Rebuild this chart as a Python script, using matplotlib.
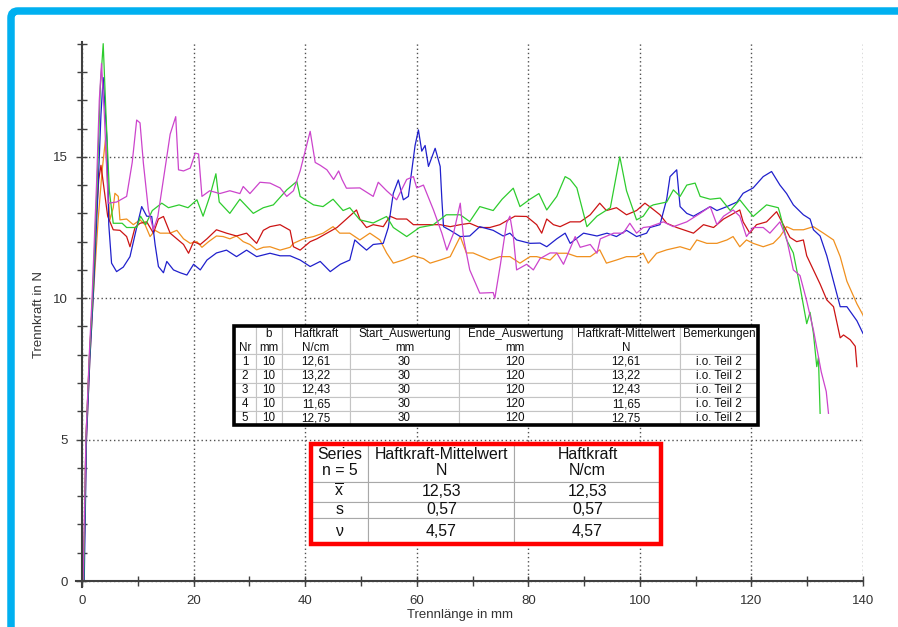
import matplotlib
matplotlib.use("Agg")
from matplotlib import pyplot as plt
from matplotlib import font_manager
from matplotlib.patches import FancyBboxPatch, Rectangle
from matplotlib.transforms import IdentityTransform
from matplotlib.ticker import MultipleLocator

# Trennkraft curves (x: Trennlänge in mm, y: Trennkraft in N)
green_x = [0.3, 0.7, 1.3, 1.9, 2.7, 3.3, 3.8, 4.3, 4.9, 5.6, 7.2, 8.0, 9.8, 10.5, 11.4, 12.6, 14.3,
           15.5, 17.4, 19.0, 20.6, 21.7, 22.9, 24.0, 24.6, 26.5, 28.3, 30.7, 32.5, 34.3, 36.7, 38.5,
           39.1, 41.5, 43.2, 45.0, 46.8, 48.0, 49.8, 52.2, 54.6, 55.8, 58.2, 60.5, 62.9, 65.3, 67.8,
           69.5, 71.3, 73.7, 75.3, 77.3, 78.5, 80.3, 81.9, 83.3, 85.1, 86.6, 87.5, 88.7, 90.5, 92.3,
           94.7, 96.4, 97.6, 99.4, 100.6, 101.8, 102.4, 104.8, 106.0, 107.2, 108.4, 109.9, 110.8,
           112.6, 114.4, 116.2, 117.9, 120.3, 122.7, 124.8, 125.1, 126.3, 127.5, 128.7, 129.9, 130.5,
           131.1, 131.7, 132.0, 132.3]
green_y = [0, 5, 7.8, 10, 14, 17.5, 19.0, 16.5, 13.8, 12.65, 12.65, 12.5, 12.5, 12.9, 12.6, 13.1, 13.36,
           13.2, 13.3, 13.2, 13.48, 12.9, 13.6, 14.4, 13.4, 13.0, 13.5, 13.0, 13.2, 13.3, 13.83, 14.13,
           13.6, 13.3, 13.24, 13.5, 13.1, 13.2, 12.77, 12.66, 12.89, 12.5, 12.18, 12.5, 12.59, 12.95, 12.95,
           12.71, 13.24, 13.1, 13.5, 13.89, 13.24, 13.5, 13.7, 13.12, 13.6, 14.3, 14.2, 13.9, 12.53, 12.9,
           13.2, 15.0, 13.8, 12.77, 12.9, 13.24, 13.3, 13.4, 13.83, 13.6, 14.0, 14.07, 13.6,
           13.5, 13.54, 13.1, 13.48, 12.89, 13.3, 13.2, 13.0, 12.06, 11.6, 10.41, 9.1, 9.5,
           8.76, 7.58, 7.9, 5.93]

magenta_x = [0.2, 0.7, 1.3, 1.8, 2.6, 3.1, 3.5, 4.0, 4.7, 6.2, 8.0, 9.0, 9.8, 10.4, 11.0, 11.9, 12.8,
             13.6, 15.2, 15.8, 16.8, 17.3, 18.2, 19.4, 20.3, 20.9, 21.5, 22.9, 24.7, 26.5, 28.3, 28.9,
             30.1, 31.9, 33.7, 35.5, 36.7, 37.9, 39.1, 40.9, 41.8, 42.7, 43.9, 45.1, 46.0, 46.6, 47.4,
             49.8, 52.2, 53.1, 54.6, 56.4, 58.2, 59.4, 60.0, 61.2, 63.0, 64.5, 65.4, 66.6, 67.8, 68.4,
             69.5, 71.3, 73.7, 74.0, 75.0, 76.1, 76.7, 77.3, 77.9, 79.7, 80.9, 82.1, 83.9, 85.1, 86.3,
             88.4, 89.3, 91.1, 92.3, 92.9, 95.3, 97.0, 98.2, 99.4, 100.6, 101.8, 104.2, 106.0, 108.4,
             110.8, 112.6, 113.8, 115.0, 116.7, 117.9, 119.1, 120.3, 122.1, 123.3, 125.1, 126.3, 127.5,
             128.7, 129.9, 131.1, 132.5, 133.4, 133.8]
magenta_y = [0, 5, 8, 10, 14, 17, 18.3, 16.5, 13.36, 13.4, 13.6, 14.8, 16.3, 16.2, 14.78, 13.12, 12.42,
             12.9, 15.0, 15.8, 16.42, 14.54, 14.5, 14.6, 15.13, 15.1, 13.6, 13.8, 13.7, 13.8, 13.7, 13.95,
             13.7, 14.1, 14.07, 13.9, 13.6, 13.8, 14.5, 15.9, 14.8, 14.7, 14.54, 14.2, 14.5, 14.2, 13.89,
             13.9, 13.6, 14.1, 13.8, 13.48, 14.2, 14.3, 13.9, 14.0, 13.12, 12.3, 11.7, 12.3, 13.36, 12.1,
             11.0, 10.18, 10.2, 10.0, 11.2, 12.65, 12.9, 12.2, 11.0, 11.2, 11.0, 11.4, 11.6, 11.6, 11.2,
             12.18, 11.8, 11.9, 11.59, 12.1, 12.3, 12.3, 12.65, 12.3, 12.5, 12.53, 12.7, 12.53, 12.7,
             13.0, 13.24, 12.6, 12.9, 13.12, 12.9, 12.18, 12.5, 12.5, 12.3, 12.7, 12.1, 11.0,
             10.8, 9.9, 8.88, 7.4, 6.7, 5.93]

blue_x = [0.4, 0.8, 1.4, 2.0, 2.8, 3.4, 3.8, 4.5, 4.8, 5.3, 6.2, 7.4, 8.6, 9.8, 10.7, 11.6, 12.5, 13.1,
          13.7, 14.6, 15.2, 16.4, 17.6, 18.8, 20.0, 21.2, 22.4, 24.1, 25.9, 27.7, 29.5, 31.3, 33.7, 35.5,
          37.3, 39.1, 40.9, 42.7, 44.5, 46.3, 48.0, 48.9, 49.8, 51.0, 52.2, 54.0, 54.9, 55.8, 56.7, 57.6,
          58.5, 59.7, 60.3, 60.9, 61.5, 62.1, 63.3, 64.2, 64.5, 64.8, 66.0, 67.8, 69.5, 71.3, 73.7, 75.5,
          76.7, 77.9, 80.3, 82.1, 83.3, 85.1, 86.6, 87.5, 89.9, 92.3, 94.1, 95.8, 97.6, 99.4, 101.2,
          101.8, 103.6, 104.8, 105.4, 106.6, 107.2, 108.4, 109.6, 111.4, 112.6, 113.8, 115.6, 117.4,
          118.5, 120.3, 122.1, 123.6, 125.1, 126.3, 127.5, 129.3, 130.5, 131.1, 132.3, 133.5, 134.7,
          135.9, 137.1, 138.9, 140.0]
blue_y = [0, 5, 7.8, 10, 13.5, 16.5, 17.8, 15.5, 12.6, 11.24, 10.94, 11.1, 11.47, 12.5, 13.24, 12.9, 12.89, 11.9,
          11.12, 10.9, 11.3, 11.0, 10.9, 10.82, 11.2, 11.0, 11.35, 11.6, 11.7, 11.47, 11.7, 11.47, 11.59, 11.5,
          11.5, 11.35, 11.12, 11.3, 10.94, 11.2, 11.35, 12.06, 11.9, 11.7, 11.9, 11.94, 12.5, 13.71, 14.18, 13.48,
          13.6, 15.4, 15.95, 15.2, 15.4, 14.66, 15.3, 14.66, 13.5, 12.53, 12.4, 12.18, 12.2, 12.53, 12.4, 12.2,
          12.3, 12.06, 11.94, 11.95, 11.82, 12.1, 12.3, 11.94, 12.3, 12.2, 12.3, 12.18, 12.4, 12.18, 12.3,
          12.5, 12.6, 13.5, 14.3, 14.54, 13.24, 13.0, 12.9, 13.1, 13.24, 13.1, 13.24, 13.4,
          13.71, 13.9, 14.3, 14.48, 14.0, 13.7, 13.3, 12.95, 12.8, 12.42, 12.2, 11.5, 10.6,
          9.7, 9.7, 9.2, 8.75]

red_x = [0.3, 0.7, 1.3, 1.9, 2.6, 3.0, 3.4, 4.0, 4.6, 5.6, 6.8, 8.0, 8.6, 9.5, 10.4, 11.6, 12.8, 13.7,
         14.6, 15.8, 17.0, 18.2, 19.1, 20.0, 21.2, 22.4, 24.1, 25.9, 27.7, 29.5, 31.3, 32.5, 33.7, 35.5,
         37.3, 37.9, 39.1, 40.9, 42.1, 43.9, 45.7, 47.4, 49.2, 49.8, 51.0, 52.2, 54.0, 55.2, 56.4, 58.2,
         59.4, 61.8, 64.2, 66.0, 67.8, 69.5, 71.3, 73.1, 74.9, 76.4, 77.6, 79.7, 81.5, 82.4, 83.3, 84.5,
         85.7, 87.5, 89.3, 91.1, 92.8, 94.0, 95.8, 97.6, 99.4, 100.9, 102.0, 103.6, 104.8, 106.6, 109.6,
         111.4, 113.2, 115.0, 117.9, 118.5, 119.7, 120.9, 122.7, 124.5, 125.7, 126.9, 128.1, 129.3,
         129.9, 131.1, 132.3, 133.5, 134.7, 135.9, 136.5, 137.7, 138.6, 138.9]
red_y = [0, 5, 7.8, 10, 13, 14.2, 14.7, 13.8, 12.9, 12.42, 12.4, 12.18, 11.82, 12.5, 12.65, 12.7, 12.3, 12.8,
         12.89, 12.3, 12.1, 11.9, 11.59, 12.0, 11.9, 12.1, 12.42, 12.3, 12.2, 12.3, 11.94, 12.4, 12.53, 12.6,
         12.4, 11.82, 11.7, 12.0, 12.1, 12.3, 12.5, 12.8, 13.12, 12.8, 12.5, 12.6, 12.53, 12.9, 12.8, 12.8,
         12.6, 12.6, 12.6, 12.53, 12.6, 12.65, 12.5, 12.5, 12.6, 12.77, 12.9, 12.89, 12.6, 12.3, 12.8, 12.6,
         12.53, 12.7, 12.7, 12.95, 13.36, 13.1, 13.2, 12.95, 13.1, 13.36, 13.2, 12.95, 12.65, 12.5, 12.3,
         12.6, 12.5, 12.8, 13.12, 12.7, 12.3, 12.6, 12.7, 13.06, 12.6, 12.15, 12.0, 12.06,
         11.5, 11.0, 10.5, 9.94, 9.7, 8.6, 8.7, 8.53, 8.3, 7.58]

orange_x = [0.3, 0.8, 1.4, 2.0, 2.9, 3.6, 4.2, 4.6, 5.0, 5.6, 5.9, 6.5, 6.8, 8.0, 9.2, 10.4, 11.3, 12.2,
            13.1, 14.0, 15.8, 17.0, 18.2, 19.4, 20.6, 21.5, 22.7, 24.1, 25.3, 26.5, 27.7, 28.9, 30.1,
            31.3, 32.5, 33.7, 35.5, 37.3, 37.9, 39.7, 41.5, 43.2, 45.0, 46.2, 48.0, 49.8, 51.6, 53.4,
            54.6, 55.8, 57.6, 59.4, 61.2, 62.4, 64.2, 66.0, 67.8, 68.9, 70.1, 71.3, 73.1, 74.9, 76.7,
            78.5, 80.3, 81.5, 83.9, 85.1, 86.9, 88.7, 91.1, 92.8, 94.0, 95.8, 97.6, 99.4, 100.6, 101.5,
            103.0, 104.8, 107.2, 109.0, 110.2, 112.0, 113.8, 115.6, 116.7, 117.9, 119.1, 120.3, 122.1,
            123.9, 125.1, 126.3, 127.5, 129.3, 131.1, 132.9, 134.7, 135.9, 137.1, 138.9, 140.0]
orange_y = [0, 5, 7.8, 10, 12.8, 14.5, 15.6, 14.0, 12.77, 13.2, 13.71, 13.6, 12.77, 12.8, 12.6, 12.77, 12.6, 12.18,
            12.4, 12.3, 12.3, 12.4, 12.1, 11.94, 12.0, 11.8, 12.0, 12.2, 12.18, 12.1, 12.2, 12.0, 11.9,
            11.71, 11.8, 11.82, 11.7, 11.8, 11.94, 12.1, 12.18, 12.3, 12.53, 12.3, 12.3, 12.06, 12.3, 12.06,
            11.6, 11.24, 11.35, 11.5, 11.4, 11.24, 11.35, 11.47, 12.18, 11.6, 11.6, 11.5, 11.35, 11.47, 11.47,
            11.24, 11.47, 11.47, 11.35, 11.59, 11.59, 11.47, 11.47, 11.71, 11.24, 11.35, 11.47, 11.47, 11.59, 11.24,
            11.59, 11.71, 11.82, 11.71, 12.06, 11.94, 11.94, 12.06, 12.18, 11.82, 12.06, 11.94, 11.82,
            11.94, 12.18, 12.53, 12.42, 12.42, 12.53, 12.3, 12.06, 11.47, 10.6, 9.8, 9.4]

# result table per sample
col_head1 = ["", "b", "Haftkraft", "Start_Auswertung", "Ende_Auswertung", "Haftkraft-Mittelwert", "Bemerkungen"]
col_head2 = ["Nr", "mm", "N/cm", "mm", "mm", "N", ""]
nr = ["1", "2", "3", "4", "5"]
b = ["10", "10", "10", "10", "10"]
haftkraft = ["12,61", "13,22", "12,43", "11,65", "12,75"]
start = ["30", "30", "30", "30", "30"]
ende = ["120", "120", "120", "120", "120"]
mittelwert = ["12,61", "13,22", "12,43", "11,65", "12,75"]
bemerkung = ["i.o. Teil 2"] * 5

# statistics table
stat_head = ["Series\nn = 5", "Haftkraft-Mittelwert\nN", "Haftkraft\nN/cm"]
stat_names = [r"$\overline{\mathrm{x}}$", "s", "ν"]
stat_mw = ["12,53", "0,57", "4,57"]
stat_hk = ["12,53", "0,57", "4,57"]

names = {f.name for f in font_manager.fontManager.ttflist}
narrow = "Liberation Sans Narrow" if "Liberation Sans Narrow" in names else "Liberation Sans"

plt.rcParams["font.family"] = ["Liberation Sans", "DejaVu Sans"]
plt.rcParams["mathtext.fontset"] = "custom"
plt.rcParams["mathtext.rm"] = "Liberation Sans"

fig = plt.figure(figsize=(8.98, 6.27), dpi=100)
ax = fig.add_axes([0.0851, 0.0643, 0.876, 0.8692])

# light blue frame round the picture
frame = FancyBboxPatch((11, -60), 1000, 627 - 11 + 60, boxstyle="round,pad=0,rounding_size=7",
                       transform=IdentityTransform(), fill=False, ec="#00B0F0", lw=5.4)
fig.add_artist(frame)

ax.plot(orange_x, orange_y, c="#F0901E", lw=0.9)
ax.plot(red_x, red_y, c="#CC1414", lw=0.9)
ax.plot(blue_x, blue_y, c="#2020CC", lw=0.9)
ax.plot(green_x, green_y, c="#2ECC2E", lw=0.9)
ax.plot(magenta_x, magenta_y, c="#CC44CC", lw=0.9)

ax.set_xlim(-1, 140)
ax.set_ylim(-0.2, 19.07)
ax.spines["top"].set_visible(False)
ax.spines["right"].set_visible(False)
for s in ["left", "bottom"]:
    ax.spines[s].set_position(("data", 0))
    ax.spines[s].set_color("#404040")
    ax.spines[s].set_linewidth(1.5)

ax.xaxis.set_major_locator(MultipleLocator(20))
ax.xaxis.set_minor_locator(MultipleLocator(10))
ax.yaxis.set_major_locator(MultipleLocator(5))
ax.yaxis.set_minor_locator(MultipleLocator(1))
ax.tick_params(which="both", direction="inout", length=6.5, width=1, color="#404040")
ax.tick_params(axis="both", which="major", labelsize=9.5, labelcolor="#333333",
               labelfontfamily=narrow, pad=7)
ax.grid(which="major", ls=(0, (1, 2)), color="#505050", lw=1)

ax.set_xlabel("Trennlänge in mm", fontsize=9.5, family=narrow, color="#333333")
ax.set_ylabel("Trennkraft in N", fontsize=9.5, family=narrow, color="#333333")
ax.xaxis.set_label_coords(0.4877, -0.041)
ax.yaxis.set_label_coords(-0.040, 0.5)

# table with the single samples
box1 = [0.2004, 0.2961, 0.6665, 0.1831]
rows = [col_head1, col_head2]
for i in range(len(nr)):
    rows.append([nr[i], b[i], haftkraft[i], start[i], ende[i], mittelwert[i], bemerkung[i]])
widths = [21.8, 25.7, 68.8, 108.2, 113.4, 108.3, 78.1]
heights = [16.2, 12.7, 14.2, 14.2, 14.2, 14.2, 14.1]
ax.add_patch(Rectangle(box1[:2], box1[2], box1[3], transform=ax.transAxes, fc="white",
                       ec="none", zorder=9, clip_on=False))
t1 = ax.table(cellText=rows, cellLoc="center", colWidths=[w / sum(widths) for w in widths],
              bbox=box1)
t1.auto_set_font_size(False)
t1.set_fontsize(8.4)
t1.set_zorder(10)
for (r, c), cell in t1.get_celld().items():
    cell.set_height(heights[r] / 1000)
    cell.set_edgecolor("#C4C4C4")
    cell.set_linewidth(0.8)
    cell.get_text().set_color("#111111")
    if r == 0:
        cell.visible_edges = "LTR"
    elif r == 1:
        cell.visible_edges = "LRB"
ax.add_patch(Rectangle(box1[:2], box1[2], box1[3], transform=ax.transAxes, fill=False,
                       ec="black", lw=2.6, zorder=11, clip_on=False))

# statistics table
box2 = [0.2976, 0.0780, 0.4450, 0.1839]
rows2 = [stat_head]
for i in range(len(stat_names)):
    rows2.append([stat_names[i], stat_mw[i], stat_hk[i]])
widths2 = [57.8, 146.0, 146.2]
heights2 = [37.7, 20.0, 16.6, 25.9]
t2 = ax.table(cellText=rows2, cellLoc="center", colWidths=[w / sum(widths2) for w in widths2],
              bbox=box2)
t2.auto_set_font_size(False)
t2.set_fontsize(11.4)
t2.set_zorder(10)
for (r, c), cell in t2.get_celld().items():
    cell.set_height(heights2[r] / 1000)
    cell.set_edgecolor("#A8A8A8")
    cell.set_linewidth(0.8)
    cell.get_text().set_color("#111111")
    cell.get_text().set_linespacing(1.1)
ax.add_patch(Rectangle(box2[:2], box2[2], box2[3], transform=ax.transAxes, fill=False,
                       ec="#FF0000", lw=3.2, zorder=11, clip_on=False))

fig.savefig("out.png", dpi=100)
